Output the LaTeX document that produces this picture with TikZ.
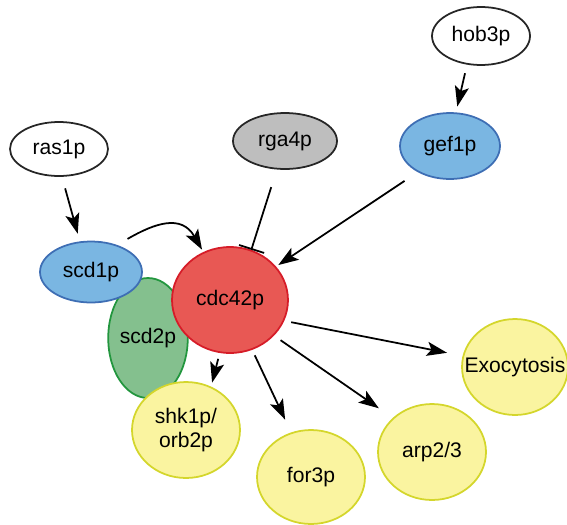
\documentclass[tikz,border=0pt]{standalone}
\usepackage{fontspec}
\setmainfont{Liberation Sans}
\usetikzlibrary{shapes.geometric,arrows.meta}
\definecolor{protblue}{RGB}{122,182,226}
\definecolor{protblueline}{RGB}{62,110,180}
\definecolor{protgray}{RGB}{190,190,190}
\definecolor{protred}{RGB}{232,88,84}
\definecolor{protredline}{RGB}{214,28,40}
\definecolor{protgreen}{RGB}{132,192,142}
\definecolor{protgreenline}{RGB}{34,150,62}
\definecolor{protyellow}{RGB}{250,244,160}
\definecolor{protyellowline}{RGB}{212,214,44}
\begin{document}
\begin{tikzpicture}[x=0.02cm,y=-0.02cm,
    prot/.style={ellipse,draw,line width=1pt,inner sep=0pt,
      font=\fontsize{12}{13.5}\selectfont,align=center},
    plain/.style={prot,fill=white,draw=black!85},
    gef/.style={prot,fill=protblue,draw=protblueline},
    gap/.style={prot,fill=protgray,draw=black!85},
    cdc/.style={prot,fill=protred,draw=protredline},
    scaf/.style={prot,fill=protgreen,draw=protgreenline},
    effect/.style={prot,fill=protyellow,draw=protyellowline},
    act/.style={line width=1pt,-{Stealth[length=11.5pt,width=8pt,inset=2.5pt]}},
    inhib/.style={line width=1pt,-{Bar[width=15pt,line width=1pt]}}]
  \useasboundingbox (0,0) rectangle (567,524);
  % upstream
  \node[plain,minimum width=1.96cm,minimum height=1.08cm] (ras1p) at (59,149) {ras1p};
  \node[gap,minimum width=2.08cm,minimum height=1.12cm] (rga4p) at (285,141) {rga4p};
  \node[plain,minimum width=1.96cm,minimum height=1.16cm] (hob3p) at (481,36) {hob3p};
  \node[gef,minimum width=2cm,minimum height=1.32cm] (gef1p) at (450,146) {gef1p};
  % polarity module
  \node[scaf,minimum width=1.4cm,minimum height=2.4cm] (scd2p) at (148,338) {scd2p};
  \node[gef,minimum width=2.04cm,minimum height=1.22cm] (scd1p) at (91,272) {scd1p};
  \node[cdc,minimum width=2.32cm,minimum height=2.12cm] (cdc42p) at (230,300) {cdc42p};
  % effectors
  \node[effect,minimum width=2.16cm,minimum height=1.92cm] (shk1p) at (186,430) {shk1p/\\orb2p};
  \node[effect,minimum width=2.16cm,minimum height=1.88cm] (for3p) at (311,477) {for3p};
  \node[effect,minimum width=2.16cm,minimum height=1.92cm] (arp23) at (432,452) {arp2/3};
  \node[effect,inner xsep=-0.3cm,minimum width=2.12cm,minimum height=1.92cm] (exo) at (515,367) {Exocytosis};
  % connectors
  \draw[act,shorten <=6.8pt,shorten >=4.5pt] (ras1p.-84)--(scd1p.110);
  \draw[act,shorten <=6.8pt,shorten >=1.5pt] (scd1p.46) to[out=30,in=120,looseness=1.3] (cdc42p.119);
  \draw[inhib,shorten <=10.5pt] (rga4p.-106)--(cdc42p.67);
  \draw[act,shorten <=9pt,shorten >=1.5pt] (gef1p.-141)--(cdc42p.36);
  \draw[act,shorten <=5pt,shorten >=3.4pt] (hob3p.-116)--(gef1p.80);
  \draw[act,shorten <=3.4pt,shorten >=2.3pt] (cdc42p.-101)--(shk1p.60);
  \draw[act,shorten <=3.4pt,shorten >=8pt] (cdc42p.-66)--(for3p.114);
  \draw[act,shorten <=4.5pt,shorten >=9.6pt] (cdc42p.-39)--(arp23.139);
  \draw[act,shorten <=4pt,shorten >=9pt] (cdc42p.-21)--(exo.168);
\end{tikzpicture}
\end{document}
